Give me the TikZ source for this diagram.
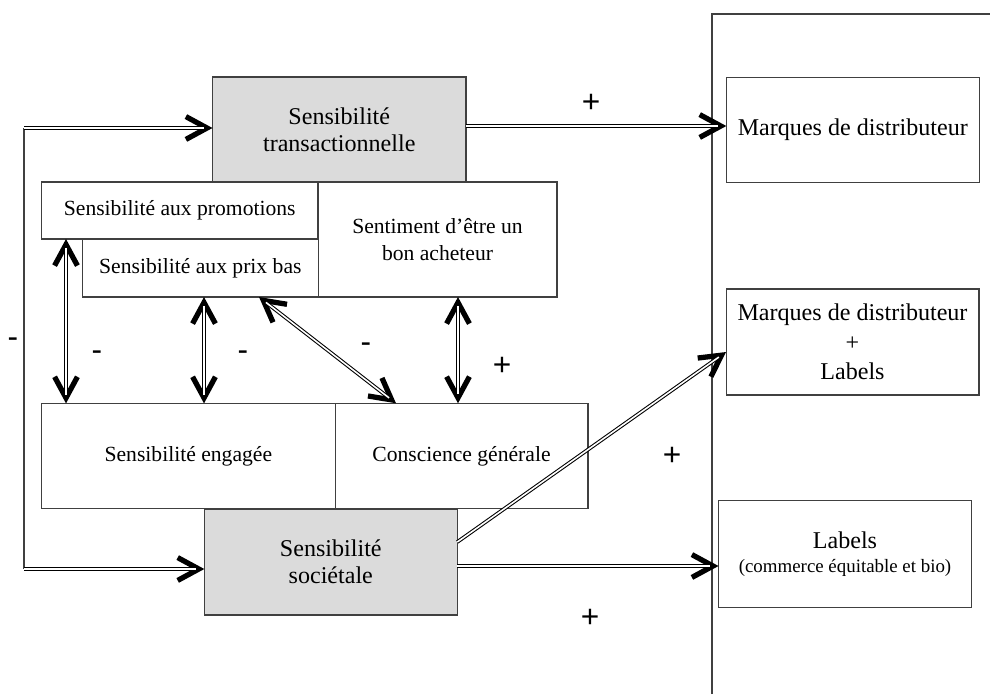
\documentclass[tikz,border=0pt]{standalone}
\usepackage{fontspec}
\setmainfont{Liberation Serif}
\newfontfamily\signfont{Liberation Sans}
\usetikzlibrary{arrows.meta,calc}

\begin{document}
\begin{tikzpicture}[x=0.02cm, y=-0.02cm,
    >={Straight Barb[length=12pt, width=13pt, line width=3pt 0]},
    box/.style={draw=black!75, line width=0.6pt, inner sep=0pt, outer sep=0pt, align=center,
        font=\fontsize{12.3}{15.5}\selectfont},
    bigbox/.style={box, font=\fontsize{13.7}{15.5}\selectfont},
    shaded/.style={bigbox, fill=black!14},
    link/.style={->, line width=0.3pt,
        postaction={draw, -, double, double distance=0.9pt, line width=0.6pt, shorten >=5pt}},
    twoway/.style={<->, line width=0.3pt,
        postaction={draw, -, double, double distance=0.9pt, line width=0.6pt, shorten >=5pt, shorten <=5pt}},
    sign/.style={font=\signfont\fontsize{18}{18}\selectfont, inner sep=0pt}]
    \useasboundingbox (0,0) rectangle (990,694);

    % Frame
    \draw[black!75, line width=0.6pt] (712,694) -- (712,14) -- (990,14);

    % Sensitivities
    \node[shaded, minimum width=5.07cm, minimum height=2.10cm] (trans) at (339.25,129.5)
        {Sensibilité\\ transactionnelle};
    \node[box, minimum width=5.53cm, minimum height=1.14cm] (promo) at (179.75,210.5)
        {Sensibilité aux promotions};
    \node[box, minimum width=4.71cm, minimum height=1.16cm] (prix) at (200.35,268)
        {Sensibilité aux prix bas};
    \node[box, minimum width=4.78cm, minimum height=2.30cm] (achat) at (437.5,239.5)
        {Sentiment d’être un\\ bon acheteur};
    \node[box, minimum width=5.87cm, minimum height=2.11cm] (engage) at (188.35,456.15)
        {Sensibilité engagée};
    \node[box, minimum width=5.06cm, minimum height=2.11cm] (consc) at (461.5,456)
        {Conscience générale};
    \node[shaded, minimum width=5.06cm, minimum height=2.12cm] (soc) at (330.8,562)
        {Sensibilité\\ sociétale};

    % Brands
    \node[bigbox, minimum width=5.06cm, minimum height=2.11cm] (mdd) at (852.8,129.85)
        {Marques de distributeur};
    \node[bigbox, font=\fontsize{13.7}{16.8}\selectfont, minimum width=5.06cm, minimum height=2.12cm]
        (mddlab) at (852.5,342) {Marques de distributeur\\ +\\ Labels};
    \node[bigbox, minimum width=5.06cm, minimum height=2.13cm] (lab) at (845,553.85)
        {Labels\\[-2pt] \fontsize{10.75}{13}\selectfont (commerce équitable et bio)};

    % Loop on the left
    \coordinate (lt) at (24,128);
    \coordinate (lb) at (24,569);
    \draw[black!75, line width=0.6pt] (lt) -- (lb);
    \draw[link] (lt) -- (lt -| trans.west);
    \draw[link] (lb) -- (lb -| soc.west);

    % Effects
    \draw[link] (trans.east |- 0,126) -- (mdd.west |- 0,126);
    \draw[link] (soc.east |- 0,542) -- (mddlab.west |- 0,352);
    \draw[link] (soc.east |- 0,566) -- (lab.west |- 0,566);

    % Correlations
    \draw[twoway] (promo.south -| 66,0) -- (engage.north -| 66,0);
    \draw[twoway] (prix.south -| 204,0) -- (engage.north -| 204,0);
    \draw[twoway] (prix.south -| 259,0) -- (consc.north -| 396,0);
    \draw[twoway] (achat.south -| 458,0) -- (consc.north -| 458,0);

    % Signs
    \node[sign] (p1) at (591,103) {+};
    \node[sign] (m0) at (13,343) {-};
    \node[sign] (m1) at (97,356) {-};
    \node[sign] (m2) at (243,356) {-};
    \node[sign] (m3) at (366,348) {-};
    \node[sign] (p2) at (502,366) {+};
    \node[sign] (p3) at (672,456) {+};
    \node[sign] (p4) at (590,618) {+};
\end{tikzpicture}
\end{document}
